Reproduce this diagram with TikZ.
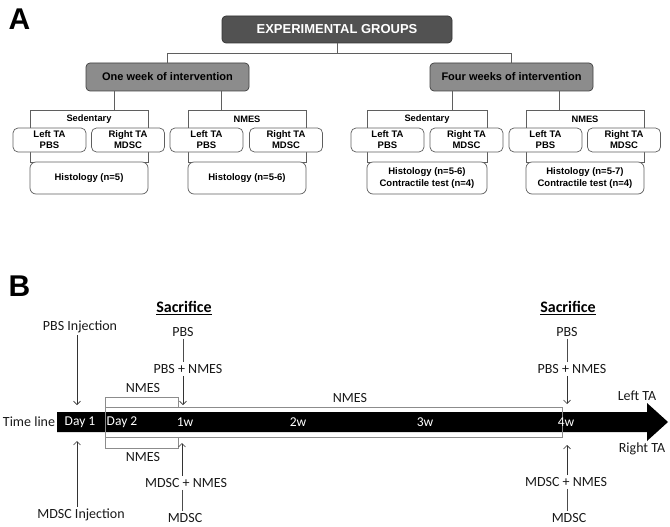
\documentclass[tikz,border=0pt]{standalone}
\usepackage{fontspec}
\setmainfont{Liberation Sans}
\newfontfamily\carl{Carlito}
\usetikzlibrary{arrows.meta}
\definecolor{egfill}{RGB}{82,82,82}
\definecolor{wkfill}{RGB}{140,140,140}
\definecolor{ln}{RGB}{95,95,95}
\begin{document}
\begin{tikzpicture}[x=1pt,y=-1pt,line width=0.7pt,
  egbox/.style={draw=black!80, fill=egfill, rounded corners=4pt, minimum width=230pt, minimum height=27pt, inner sep=0pt, text=white, font=\bfseries\fontsize{13}{15}\selectfont},
  wkbox/.style={draw=black!75, fill=wkfill, rounded corners=4pt, minimum width=163pt, minimum height=28pt, inner sep=0pt, font=\bfseries\fontsize{11}{13}\selectfont},
  frame/.style={draw=ln, minimum width=118pt, minimum height=52pt, inner sep=0pt},
  flabel/.style={font=\bfseries\fontsize{9.3}{11}\selectfont, inner sep=1pt},
  tabox/.style={draw=ln, fill=white, rounded corners=5pt, minimum width=73pt, minimum height=24pt, inner sep=0pt, align=center, font=\bfseries\fontsize{9.5}{11}\selectfont},
  hbox/.style={draw=ln, fill=white, rounded corners=6pt, minimum width=118pt, minimum height=32pt, inner sep=0pt, align=center, font=\bfseries\fontsize{9.5}{12}\selectfont},
  conn/.style={draw=ln, line width=0.7pt},
  bigletter/.style={font=\bfseries\fontsize{30}{32}\selectfont, inner sep=0pt},
  tl/.style={font=\carl\fontsize{14}{16}\selectfont, inner sep=2pt, text=black!90},
  inbar/.style={font=\carl\fontsize{13.5}{16}\selectfont, inner sep=1pt, text=white},
  sac/.style={font=\carl\bfseries\fontsize{16}{18}\selectfont, inner sep=1pt},
  arr/.style={draw=black!80, line width=0.6pt, -{Straight Barb[length=3.5pt,width=7pt]}},
  tline/.style={draw=black!70, line width=0.6pt},
  brk/.style={draw=black!45, line width=0.8pt}]
\path[use as bounding box] (0,0) rectangle (670,527);

% ---------------- Panel A ----------------
\node[bigletter] (A) at (19.5,19) {A};
\node[egbox] (eg) at (337,29.5) {EXPERIMENTAL GROUPS};
\node[wkbox] (one) at (167.5,77) {One week of intervention};
\node[wkbox] (four) at (511.5,77) {Four weeks of intervention};
\draw[conn] (eg.south) -- ++(0,10) coordinate (j1);
\draw[conn] (one.north) |- (j1) -| (four.north);

% frames
\node[frame] (f1) at (89,136) {};
\node[frame] (f2) at (247,136) {};
\node[frame, minimum width=120pt] (f3) at (427,136) {};
\node[frame] (f4) at (585,136) {};
\node[flabel] (s1) at (89,119) {Sedentary};
\node[flabel] (n1) at (247,119) {NMES};
\node[flabel] (s2) at (427,119) {Sedentary};
\node[flabel] (n2) at (585,119) {NMES};

\draw[conn] (one.south -| 114,0) -- (f1.north -| 114,0);
\draw[conn] (one.south -| 221,0) -- (f2.north -| 221,0);
\draw[conn] (four.south -| 452,0) -- (f3.north -| 452,0);
\draw[conn] (four.south -| 559,0) -- (f4.north -| 559,0);

% TA boxes
\node[tabox] (l1) at (49.5,140) {Left TA\\PBS};
\node[tabox] (r1) at (128,140) {Right TA\\MDSC};
\node[tabox] (l2) at (206.5,140) {Left TA\\PBS};
\node[tabox] (r2) at (286,140) {Right TA\\MDSC};
\node[tabox] (l3) at (387.5,140) {Left TA\\PBS};
\node[tabox] (r3) at (466.5,140) {Right TA\\MDSC};
\node[tabox] (l4) at (545.5,140) {Left TA\\PBS};
\node[tabox] (r4) at (624,140) {Right TA\\MDSC};

% histology boxes
\node[hbox] (h1) at (89,178) {Histology (n=5)};
\node[hbox] (h2) at (247,178) {Histology (n=5-6)};
\node[hbox, minimum width=120pt] (h3) at (427,178) {Histology (n=5-6)\\Contractile test (n=4)};
\node[hbox] (h4) at (585,178) {Histology (n=5-7)\\Contractile test (n=4)};

% ---------------- Panel B ----------------
\node[bigletter] (B) at (19.5,286) {B};

% timeline bar
\fill[black] (57,412) -- (647,412) -- (647,403) -- (668,422) -- (647,441) -- (647,432) -- (57,432) -- cycle;
\draw[brk] (105,407) rectangle (562,437);
\draw[brk] (105,407) -- (105,397) -- (178,397) -- (178,407);
\draw[brk] (105,437) -- (105,448) -- (178,448) -- (178,437);

\node[tl] (time) at (29,422) {Time line};
\node[inbar] (d1) at (80,422) {Day 1};
\node[inbar] (d2) at (122,422) {Day 2};
\node[inbar] (w1) at (185,422) {1w};
\node[inbar] (w2) at (298,422) {2w};
\node[inbar] (w3) at (425,422) {3w};
\node[inbar] (w4) at (566,422) {4w};

\node[tl] (lta) at (637,396) {Left TA};
\node[tl] (rta) at (642,449) {Right TA};
\node[tl] (nm0) at (143,388) {NMES};
\node[tl] (nmL) at (350,398) {NMES};
\node[tl] (nmB) at (143,457) {NMES};

\node[sac] (sac1) at (184,308) {\underline{Sacrifice}};
\node[sac] (sac2) at (568,308) {\underline{Sacrifice}};

\node[tl] (pbsinj) at (80,327) {PBS Injection};
\node[tl] (mdscinj) at (81,515) {MDSC Injection};
\node[tl] (pbs1) at (183,332) {PBS};
\node[tl] (pbsn1) at (188,369) {PBS + NMES};
\node[tl] (pbs2) at (567,332) {PBS};
\node[tl] (pbsn2) at (572,369) {PBS + NMES};
\node[tl] (mn1) at (186,483) {MDSC + NMES};
\node[tl] (m1) at (185,518) {MDSC};
\node[tl] (mn2) at (566,482) {MDSC + NMES};
\node[tl] (m2) at (569,518) {MDSC};

\coordinate (t1) at (77,405);
\coordinate (t2) at (183,405);
\coordinate (t3) at (567,404);
\coordinate (b1) at (77,441);
\coordinate (b2) at (182,443);
\coordinate (b3) at (567,445);

\draw[arr] (pbsinj.south -| t1) -- (t1);
\draw[arr] (mdscinj.north -| b1) -- (b1);
\draw[tline] (pbs1.south -| t2) -- (pbsn1.north -| t2);
\draw[arr] (pbsn1.south -| t2) -- (t2);
\draw[tline] (pbs2.south -| t3) -- (pbsn2.north -| t3);
\draw[arr] (pbsn2.south -| t3) -- (t3);
\draw[arr] (mn1.north -| b2) -- (b2);
\draw[tline] (mn1.south -| b2) -- (m1.north -| b2);
\draw[arr] (mn2.north -| b3) -- (b3);
\draw[tline] (mn2.south -| b3) -- (m2.north -| b3);
\end{tikzpicture}
\end{document}
